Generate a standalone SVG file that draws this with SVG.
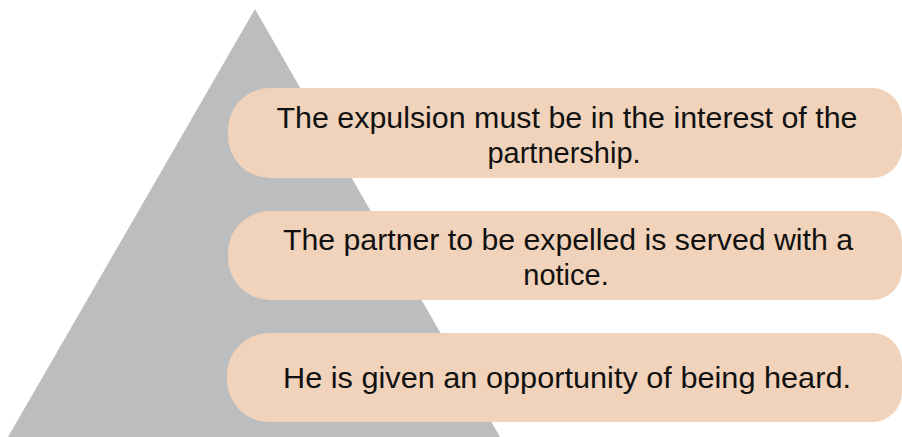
<svg xmlns="http://www.w3.org/2000/svg" width="902" height="437" viewBox="0 0 902 437">
<style>
.box{fill:#F0D3BA}
.t{font-family:"Liberation Sans",Arial,sans-serif;font-size:29px;fill:#111;text-anchor:middle}
</style>
<rect width="902" height="437" fill="#fff"/>
<g id="pyramid"><polygon points="255,9 500,437 8,437" fill="#BCBDBF"/></g>
<g id="node1">
<path class="box" d="M270,88 H872 A30,30 0 0 1 902,118 V148 A30,30 0 0 1 872,178 H270 A42,42 0 0 1 228,136 V130 A42,42 0 0 1 270,88 Z"/>
<text class="t" x="567" y="128" textLength="581" lengthAdjust="spacingAndGlyphs">The expulsion must be in the interest of the</text>
<text class="t" x="564" y="163">partnership.</text>
</g>
<g id="node2">
<path class="box" d="M270,211 H872 A30,30 0 0 1 902,241 V270 A30,30 0 0 1 872,300 H270 A42,42 0 0 1 228,258 V253 A42,42 0 0 1 270,211 Z"/>
<text class="t" x="568" y="250" textLength="570" lengthAdjust="spacingAndGlyphs">The partner to be expelled is served with a</text>
<text class="t" x="566" y="285">notice.</text>
</g>
<g id="node3">
<path class="box" d="M269,333 H872 A30,30 0 0 1 902,363 V392 A30,30 0 0 1 872,422 H269 A42,42 0 0 1 227,380 V375 A42,42 0 0 1 269,333 Z"/>
<text class="t" x="567" y="388" textLength="568" lengthAdjust="spacingAndGlyphs">He is given an opportunity of being heard.</text>
</g>
<g id="connectors"/>
</svg>
